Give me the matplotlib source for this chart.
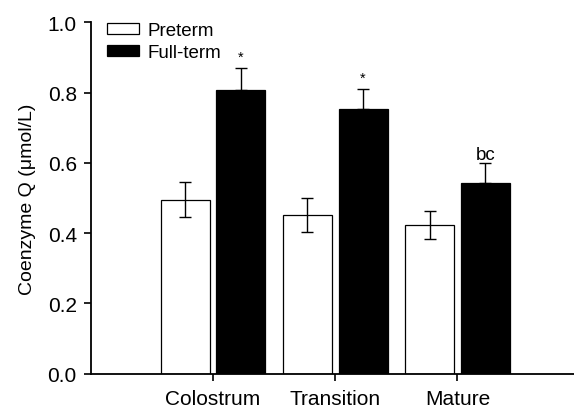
import matplotlib
matplotlib.use("Agg")
import matplotlib.pyplot as plt
from matplotlib.patches import Patch
import numpy as np

categories = ["Colostrum", "Transition", "Mature"]
preterm = [0.495, 0.451, 0.424]
preterm_err = [0.050, 0.048, 0.040]
fullterm = [0.808, 0.752, 0.542]
fullterm_err = [0.061, 0.058, 0.058]
annotations = ["*", "*", "bc"]
yticks = [0.0, 0.2, 0.4, 0.6, 0.8, 1.0]

plt.rcParams['font.family'] = ['Liberation Sans', 'DejaVu Sans']

fig = plt.figure(figsize=(5.74, 4.10), dpi=100)
ax = fig.add_axes([90.7/574, 1-374.5/410, 1-90.7/574, (374.5-23.3)/410])

x = np.arange(len(categories))
w = 0.40
off = 0.228

ax.bar(x - off, preterm, w, color="white", edgecolor="black", linewidth=0.9, zorder=2)
ax.bar(x + off, fullterm, w, color="black", edgecolor="black", linewidth=0.9, zorder=2)

ax.errorbar(x - off, preterm, yerr=preterm_err, fmt="none", ecolor="black",
            elinewidth=1.0, capsize=4.2, capthick=1.0, zorder=3)
ax.errorbar(x + off, fullterm, yerr=[np.zeros(3), fullterm_err], fmt="none", ecolor="black",
            elinewidth=1.0, capsize=4.2, capthick=1.0, zorder=3)

for i, lab in enumerate(annotations):
    top = fullterm[i] + fullterm_err[i]
    if lab == "*":
        ax.text(x[i] + off, top + 0.022, lab, ha="center", va="baseline", fontsize=10.5)
    else:
        ax.text(x[i] + off, top + 0.011, lab, ha="center", va="baseline", fontsize=13.5)

ax.set_xlim(-1.0, 2.953)
ax.set_ylim(0, 1.0)
ax.set_xticks(x)
ax.set_xticklabels(categories, fontsize=15)
ax.set_yticks(yticks)
ax.set_yticklabels([f"{v:.1f}" for v in yticks], fontsize=15)
ax.tick_params(axis="both", direction="out", length=5, width=1.2)
ax.tick_params(axis="x", pad=6)
ax.tick_params(axis="y", pad=5)
for s in ["top", "right"]:
    ax.spines[s].set_visible(False)
for s in ["left", "bottom"]:
    ax.spines[s].set_linewidth(1.3)
ax.set_ylabel("Coenzyme Q (μmol/L)", fontsize=14, labelpad=8)

handles = [Patch(facecolor="white", edgecolor="black", linewidth=0.9, label="Preterm"),
           Patch(facecolor="black", edgecolor="black", linewidth=0.9, label="Full-term")]
ax.legend(handles=handles, loc="upper left", bbox_to_anchor=(0.034, 1.0), frameon=False,
          fontsize=13.5, handlelength=1.7, handleheight=0.55, handletextpad=0.43,
          labelspacing=0.25, borderaxespad=0, borderpad=0)

fig.savefig("out.png", dpi=100)
